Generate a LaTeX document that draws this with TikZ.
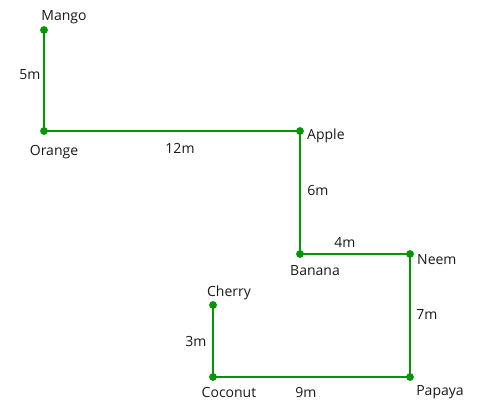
\documentclass[tikz,border=0pt]{standalone}
\usepackage{fontspec}
\setmainfont{Open Sans}
\definecolor{edgegreen}{RGB}{0,150,0}
\begin{document}
\begin{tikzpicture}[x=1pt,y=-1pt,
  pt/.style={circle,fill=edgegreen,inner sep=0pt,minimum size=7.5pt},
  lbl/.style={font=\fontsize{14}{16}\selectfont,text=black!90,inner sep=0pt},
  edge/.style={draw=edgegreen,line width=2pt}]
\useasboundingbox (0,0) rectangle (480,416);
\node[pt] (mango) at (44,30) {};
\node[pt] (orange) at (44,131) {};
\node[pt] (apple) at (300,131) {};
\node[pt] (banana) at (300,254) {};
\node[pt] (neem) at (410,254) {};
\node[pt] (papaya) at (410,377) {};
\node[pt] (coconut) at (213,377) {};
\node[pt] (cherry) at (213,305) {};
\draw[edge] (mango.center) -- (orange.center) -- (apple.center) -- (banana.center) -- (neem.center) -- (papaya.center) -- (coconut.center) -- (cherry.center);
\foreach \n in {mango,orange,apple,banana,neem,papaya,coconut,cherry} \node[pt] at (\n) {};
\node[lbl] (tmango) at (64,17) {Mango};
\node[lbl] (torange) at (54,152) {Orange};
\node[lbl,anchor=west] (tapple) at (307,136) {Apple};
\node[lbl] (tbanana) at (315,271) {Banana};
\node[lbl,anchor=west] (tneem) at (417,260) {Neem};
\node[lbl] (tpapaya) at (440,392) {Papaya};
\node[lbl] (tcoconut) at (229,392) {Coconut};
\node[lbl] (tcherry) at (229,293) {Cherry};
\node[lbl] (l5) at (30,75) {5m};
\node[lbl] (l12) at (180,148) {12m};
\node[lbl] (l6) at (318,190) {6m};
\node[lbl] (l4) at (345,242) {4m};
\node[lbl] (l7) at (427,314) {7m};
\node[lbl] (l9) at (306,392) {9m};
\node[lbl] (l3) at (196,341) {3m};
\end{tikzpicture}
\end{document}
